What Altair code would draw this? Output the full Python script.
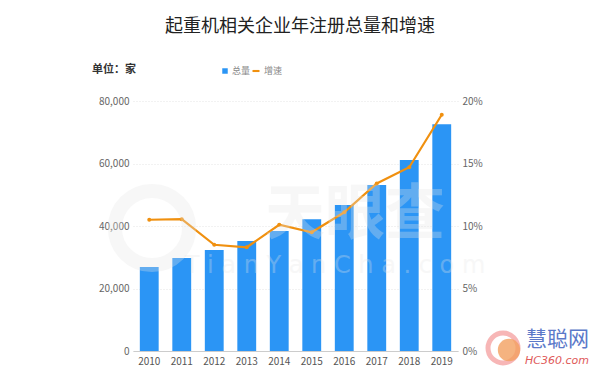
import altair as alt
import pandas as pd

years = ["2010", "2011", "2012", "2013", "2014", "2015", "2016", "2017", "2018", "2019"]
totals = [26900, 29800, 32300, 35200, 38400, 42200, 46700, 53100, 61100, 72600]
growth = [10.5, 10.55, 8.5, 8.3, 10.1, 9.5, 11.1, 13.4, 14.7, 18.9]

df = pd.DataFrame({"year": years, "total": totals, "growth": growth})

FONT = "Noto Sans CJK SC"
BLUE = "#2b95f5"
ORANGE = "#f0900f"

W, H = 325, 250

x = alt.X("year:N", title=None, sort=years,
          scale=alt.Scale(paddingInner=0.42, paddingOuter=0.21),
          axis=alt.Axis(labelAngle=0, labelColor="#555555", labelFontSize=10,
                        labelFont=FONT, domainColor="#cccccc", ticks=False,
                        labelPadding=5, grid=False))

bars = alt.Chart(df).mark_bar(color=BLUE).encode(
    x=x,
    y=alt.Y("total:Q", title=None,
            scale=alt.Scale(domain=[0, 80000]),
            axis=alt.Axis(values=[0, 20000, 40000, 60000, 80000], format=",d",
                          labelColor="#666666", labelFontSize=10, labelFont=FONT,
                          domain=False, ticks=False, labelPadding=4,
                          grid=True, gridColor="#e4e4e4", gridDash=[1, 2])),
)

line = alt.Chart(df).mark_line(color=ORANGE, strokeWidth=2.2,
                               point=alt.OverlayMarkDef(color=ORANGE, size=16, filled=True)).encode(
    x=x,
    y=alt.Y("growth:Q", title=None,
            scale=alt.Scale(domain=[0, 20]),
            axis=alt.Axis(orient="right", values=[0, 5, 10, 15, 20],
                          labelExpr="datum.value + '%'",
                          labelColor="#666666", labelFontSize=10, labelFont=FONT,
                          domain=False, ticks=False, labelPadding=4,
                          grid=False)),
)

one = pd.DataFrame({"a": [0]})

def txt(s, x0, y0, size=10, color="#666666", align="left", weight="normal", font=FONT,
        opacity=1.0, italic=False):
    return alt.Chart(one).mark_text(
        text=s, align=align, baseline="middle", fontSize=size, color=color,
        fontWeight=weight, font=font, opacity=opacity,
        fontStyle="italic" if italic else "normal",
    ).encode(x=alt.value(x0), y=alt.value(y0))

wm1 = alt.Chart(one).mark_text(text="天眼查", align="center", baseline="middle",
                               fontSize=60, font=FONT, fontWeight="bold",
                               color="#e6e6e6", opacity=0.3).encode(
    x=alt.value(355 - 133), y=alt.value(216 - 101))
wm2 = alt.Chart(one).mark_text(text="T i a n Y a n C h a . c o m", align="center",
                               baseline="middle", fontSize=24, font="DejaVu Sans",
                               color="#e6e6e6", opacity=0.3).encode(
    x=alt.value(335 - 133), y=alt.value(266 - 101))
wm_circle = alt.Chart(one).mark_point(shape="circle", size=5500, strokeWidth=14,
                                      color="#e6e6e6", opacity=0.3).encode(
    x=alt.value(152 - 133), y=alt.value(228 - 101))

legend_sq = alt.Chart(one).mark_square(color=BLUE, size=30, opacity=1).encode(
    x=alt.value(225 - 133), y=alt.value(71 - 101))
legend_ln = alt.Chart(one).mark_point(color=ORANGE, opacity=1, filled=True,
                                      strokeWidth=0,
                                      shape="M-1,-0.3L1,-0.3L1,0.3L-1,0.3Z").encode(
    x=alt.value(256 - 133), y=alt.value(71 - 101),
    size=alt.value(49))

title = txt("起重机相关企业年注册总量和增速", 300 - 133, 27 - 101, size=18,
            color="#222222", align="center")
unit = txt("单位：家", 92 - 133, 70 - 101, size=11, color="#333333", weight="bold")
lg1 = txt("总量", 232 - 133, 71 - 101, size=9, color="#888888")
lg2 = txt("增速", 264 - 133, 71 - 101, size=9, color="#888888")

logo_c = alt.Chart(one).mark_point(shape="circle", size=500, filled=True,
                                   color="#f2a060", opacity=0.8).encode(
    x=alt.value(509 - 133), y=alt.value(350 - 101))
logo_c2 = alt.Chart(one).mark_point(shape="circle", size=900, filled=False, strokeWidth=5,
                                    color="#f07070", opacity=0.5).encode(
    x=alt.value(503 - 133), y=alt.value(348 - 101))
logo1 = txt("慧聪网", 526 - 133, 340 - 101, size=21, color="#5b79c9")
logo2 = txt("HC360.com", 525 - 133, 361 - 101, size=11, color="#e05a5a", italic=True,
            font="DejaVu Sans")

base = alt.layer(bars, line).resolve_scale(y="independent")

chart = alt.layer(
    base, wm_circle, wm1, wm2, legend_sq, legend_ln, title, unit, lg1, lg2,
    logo_c2, logo_c, logo1, logo2,
).properties(
    width=W, height=H,
    background="white",
    autosize=alt.AutoSizeParams(type="none"),
    padding={"left": 125, "top": 93, "right": 134, "bottom": 16},
).configure_view(
    stroke=None, strokeWidth=0
).configure_axisY(
    domain=False, ticks=False
)

chart.save("out.html", embed_options={"renderer": "svg", "actions": False})
